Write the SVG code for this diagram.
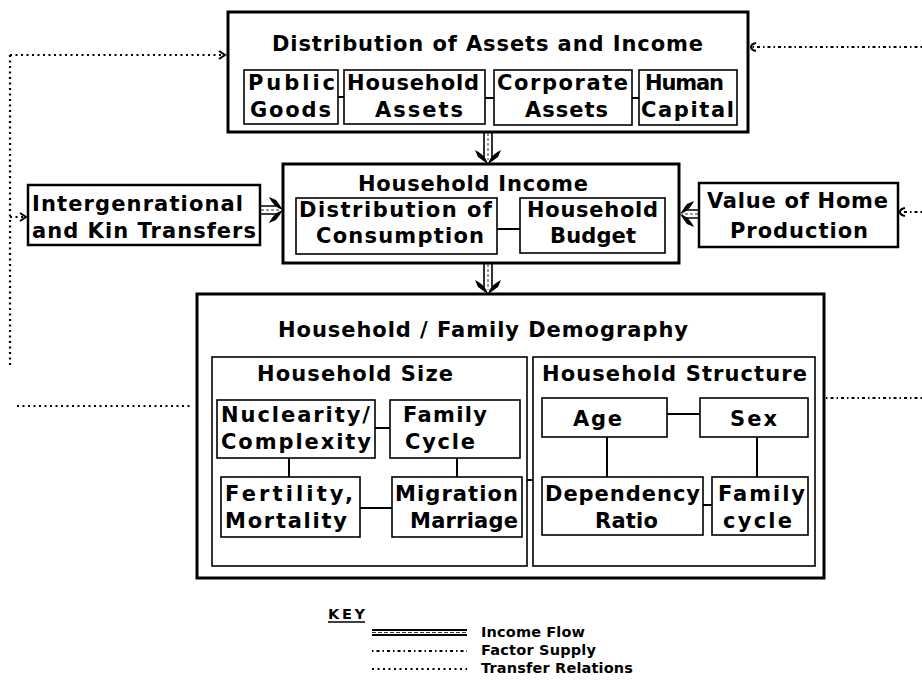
<svg xmlns="http://www.w3.org/2000/svg" width="922" height="700" viewBox="0 0 922 700">
  <style>
    text { font-family: "DejaVu Sans", "Liberation Sans", sans-serif; font-weight: bold; font-size: 21px; fill: #000; }
    .key { font-size: 14.5px; }
    .outer { fill: #fff; stroke: #000; stroke-width: 3; }
    .side { fill: #fff; stroke: #000; stroke-width: 2.5; }
    .inner { fill: #fff; stroke: #000; stroke-width: 1.6; }
    .link { stroke: #000; stroke-width: 2; fill: none; }
    .shaft { stroke: #000; stroke-width: 1.6; fill: none; }
    .shaft-mid { stroke: #000; stroke-width: 0.8; fill: none; stroke-dasharray: 3 2; }
    .factor { stroke: #000; stroke-width: 2; fill: none; stroke-dasharray: 1.5 3 3 3; }
    .transfer { stroke: #000; stroke-width: 2.2; fill: none; stroke-dasharray: 2 3.5; }
  </style>
  <defs>
    <!-- barbed head for income flow, tip at origin, pointing +x -->
    <path id="head" d="M0,0 C-7,-2 -11,-7 -14,-13 L-7,-10 C-4,-6 -2,-3 0,0 Z M0,0 C-7,2 -11,7 -14,13 L-7,10 C-4,6 -2,3 0,0 Z" fill="#000"/>
    <marker id="chev" viewBox="-8 -6 10 12" refX="0" refY="0" markerWidth="10" markerHeight="12" markerUnits="userSpaceOnUse" orient="auto">
      <path d="M-6,-4 L0,0 L-6,4" fill="none" stroke="#000" stroke-width="2"/>
    </marker>
    <marker id="hook" viewBox="-8 -6 10 12" refX="0" refY="0" markerWidth="10" markerHeight="12" markerUnits="userSpaceOnUse" orient="auto">
      <path d="M-5,-4 Q0,-3 0,0 Q0,3 -5,4" fill="none" stroke="#000" stroke-width="2"/>
    </marker>
  </defs>

  <!-- distribution of assets and income -->
  <g id="assets">
    <rect class="outer" x="228" y="12" width="520" height="120"/>
    <text x="272" y="51" textLength="431" lengthAdjust="spacing">Distribution of Assets and Income</text>
    <g id="public-goods">
      <rect class="inner" x="244" y="70" width="94" height="54"/>
      <text x="248" y="90" textLength="87" lengthAdjust="spacing">Public</text>
      <text x="250" y="117" textLength="81" lengthAdjust="spacing">Goods</text>
    </g>
    <g id="household-assets">
      <rect class="inner" x="344" y="70" width="141" height="54"/>
      <text x="347" y="90" textLength="132" lengthAdjust="spacing">Household</text>
      <text x="375" y="117" textLength="88" lengthAdjust="spacing">Assets</text>
    </g>
    <g id="corporate-assets">
      <rect class="inner" x="494" y="70" width="138" height="55"/>
      <text x="497" y="90" textLength="131" lengthAdjust="spacing">Corporate</text>
      <text x="525" y="117" textLength="83" lengthAdjust="spacing">Assets</text>
    </g>
    <g id="human-capital">
      <rect class="inner" x="639" y="70" width="98" height="55"/>
      <text x="645" y="90" textLength="79" lengthAdjust="spacing">Human</text>
      <text x="641" y="117" textLength="93" lengthAdjust="spacing">Capital</text>
    </g>
  </g>

  <!-- household income -->
  <g id="household-income">
    <rect class="outer" x="283" y="164" width="396" height="99"/>
    <text x="358" y="191" textLength="230" lengthAdjust="spacing">Household Income</text>
    <g id="consumption">
      <rect class="inner" x="296" y="198" width="201" height="56"/>
      <text x="299" y="217" textLength="193" lengthAdjust="spacing">Distribution of</text>
      <text x="316" y="243" textLength="168" lengthAdjust="spacing">Consumption</text>
    </g>
    <g id="budget">
      <rect class="inner" x="520" y="198" width="145" height="55"/>
      <text x="527" y="217" textLength="131" lengthAdjust="spacing">Household</text>
      <text x="550" y="243" textLength="86" lengthAdjust="spacing">Budget</text>
    </g>
  </g>

  <!-- kin transfers -->
  <g id="kin-transfers">
    <rect class="side" x="28" y="185" width="232" height="60"/>
    <text x="32" y="211" textLength="211" lengthAdjust="spacing">Intergenrational</text>
    <text x="32" y="238" textLength="224" lengthAdjust="spacing">and Kin Transfers</text>
  </g>

  <!-- home production -->
  <g id="home-production">
    <rect class="side" x="699" y="183" width="199" height="64"/>
    <text x="707" y="208" textLength="181" lengthAdjust="spacing">Value of Home</text>
    <text x="730" y="238" textLength="138" lengthAdjust="spacing">Production</text>
  </g>

  <!-- household / family demography -->
  <g id="demography">
    <rect class="outer" x="197" y="294" width="627" height="284"/>
    <text x="278" y="337" textLength="410" lengthAdjust="spacing">Household / Family Demography</text>

    <g id="household-size">
      <rect class="inner" x="212" y="357" width="315" height="209"/>
      <text x="257" y="381" textLength="196" lengthAdjust="spacing">Household Size</text>
      <g id="nuclearity">
        <rect class="inner" x="217" y="400" width="158" height="58"/>
        <text x="221" y="422" textLength="149" lengthAdjust="spacing">Nuclearity/</text>
        <text x="221" y="449" textLength="150" lengthAdjust="spacing">Complexity</text>
      </g>
      <g id="family-cycle-size">
        <rect class="inner" x="390" y="400" width="130" height="58"/>
        <text x="403" y="422" textLength="84" lengthAdjust="spacing">Family</text>
        <text x="405" y="449" textLength="70" lengthAdjust="spacing">Cycle</text>
      </g>
      <g id="fertility">
        <rect class="inner" x="221" y="477" width="139" height="60"/>
        <text x="225" y="501" textLength="128" lengthAdjust="spacing">Fertility,</text>
        <text x="225" y="528" textLength="122" lengthAdjust="spacing">Mortality</text>
      </g>
      <g id="migration">
        <rect class="inner" x="392" y="477" width="130" height="60"/>
        <text x="395" y="501" textLength="123" lengthAdjust="spacing">Migration</text>
        <text x="410" y="528" textLength="108" lengthAdjust="spacing">Marriage</text>
      </g>
    </g>

    <g id="household-structure">
      <rect class="inner" x="533" y="357" width="282" height="209"/>
      <text x="542" y="381" textLength="265" lengthAdjust="spacing">Household Structure</text>
      <g id="age">
        <rect class="inner" x="542" y="398" width="125" height="39"/>
        <text x="573" y="426" textLength="49" lengthAdjust="spacing">Age</text>
      </g>
      <g id="sex">
        <rect class="inner" x="700" y="398" width="108" height="39"/>
        <text x="730" y="426" textLength="47" lengthAdjust="spacing">Sex</text>
      </g>
      <g id="dependency">
        <rect class="inner" x="542" y="477" width="161" height="58"/>
        <text x="545" y="501" textLength="155" lengthAdjust="spacing">Dependency</text>
        <text x="595" y="528" textLength="63" lengthAdjust="spacing">Ratio</text>
      </g>
      <g id="family-cycle-structure">
        <rect class="inner" x="712" y="477" width="96" height="58"/>
        <text x="718" y="501" textLength="87" lengthAdjust="spacing">Family</text>
        <text x="723" y="528" textLength="69" lengthAdjust="spacing">cycle</text>
      </g>
    </g>
  </g>

  <!-- connectors, drawn over the boxes -->
  <g id="connectors">
    <!-- transfer relations (left) -->
    <path class="transfer" d="M10,55 L10,365"/>
    <path class="transfer" d="M10,55 L225,55" marker-end="url(#chev)"/>
    <path class="transfer" d="M10,217 L26,217" marker-end="url(#chev)"/>
    <path class="transfer" d="M17,406 L192,406"/>
    <!-- factor supply (right) -->
    <path class="factor" d="M922,47 L751,47" marker-end="url(#hook)"/>
    <path class="factor" d="M922,212 L900,212" marker-end="url(#hook)"/>
    <path class="factor" d="M826,398 L922,398"/>

    <!-- income flow: assets -> household income -->
    <g>
      <path class="shaft" d="M484,133 V158 M492,133 V158"/>
      <path class="shaft-mid" d="M488,133 V160"/>
      <use href="#head" transform="translate(488,164) rotate(90)"/>
    </g>
    <!-- income flow: household income -> demography -->
    <g>
      <path class="shaft" d="M484,264 V288 M492,264 V288"/>
      <path class="shaft-mid" d="M488,264 V290"/>
      <use href="#head" transform="translate(488,294) rotate(90)"/>
    </g>
    <!-- income flow: kin transfers -> household income -->
    <g>
      <path class="shaft" d="M261,206 H278 M261,214 H278"/>
      <path class="shaft-mid" d="M261,210 H280"/>
      <use href="#head" transform="translate(283,210)"/>
    </g>
    <!-- income flow: home production -> household income -->
    <g>
      <path class="shaft" d="M698,210 H684 M698,218 H684"/>
      <path class="shaft-mid" d="M698,214 H682"/>
      <use href="#head" transform="translate(680,214) rotate(180)"/>
    </g>

    <!-- links inside asset box -->
    <path class="link" d="M338,97 H344 M485,98 H494 M632,98 H639"/>
    <!-- links inside household income -->
    <path class="link" d="M497,229 H520"/>
    <!-- links inside household size -->
    <path class="link" d="M375,428 H390 M289,458 V477 M457,458 V477 M360,508 H392"/>
    <!-- size to structure -->
    <path class="link" d="M527,480 H533"/>
    <!-- links inside household structure -->
    <path class="link" d="M667,414 H700 M607,437 V477 M757,437 V477 M703,505 H712"/>
  </g>

  <!-- key -->
  <g id="key">
    <text class="key" x="328" y="619" textLength="37" lengthAdjust="spacing">KEY</text>
    <path d="M328,622 H365" stroke="#000" stroke-width="1.5"/>
    <path d="M372,630 H467 M372,635 H467" stroke="#000" stroke-width="1.8"/>
    <path d="M372,632.5 H467" stroke="#000" stroke-width="0.8" stroke-dasharray="4 2"/>
    <text class="key" x="481" y="637" textLength="104" lengthAdjust="spacing">Income Flow</text>
    <path class="factor" d="M372,651 H467"/>
    <text class="key" x="481" y="655" textLength="115" lengthAdjust="spacing">Factor Supply</text>
    <path class="transfer" d="M372,669 H467"/>
    <text class="key" x="481" y="673" textLength="152" lengthAdjust="spacing">Transfer Relations</text>
  </g>
</svg>
